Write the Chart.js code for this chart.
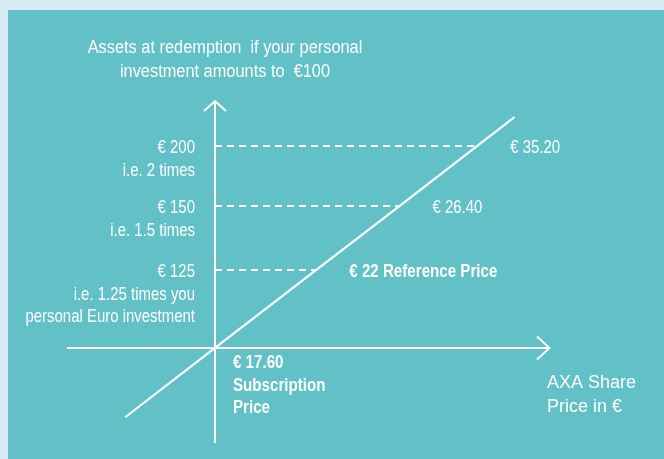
<!DOCTYPE html>
<html>
<head>
<meta charset="utf-8">
<script src="https://cdn.jsdelivr.net/npm/chart.js@4.4.1/dist/chart.umd.min.js"></script>
<style>
  html, body { margin: 0; padding: 0; width: 664px; height: 459px; overflow: hidden; background: #d7eaf6; }
  #panel { position: absolute; left: 8px; top: 10px; right: 0; bottom: 0; background: #62c1c6; }
  #c { position: absolute; left: 0; top: 0; }
</style>
</head>
<body>
<div id="panel"></div>
<canvas id="c" width="664" height="459"></canvas>
<script>
// ---- data ----
const PRICES = [17.60, 22.00, 26.40, 35.20];          // AXA share price (€)
const ASSETS = [100, 125, 150, 200];                   // assets at redemption (€)
const LINE_PRICES = [13.7, 17.60, 22.00, 26.40, 35.20, 39.4];
const LINE_ASSETS = [77.8, 100, 125, 150, 200, 224];
const PRICE_LABELS = ['€ 17.60', '€ 22', '€ 26.40', '€ 35.20'];
const ASSET_LABELS = [
  ['€ 125', 'i.e. 1.25 times you', 'personal Euro investment'],
  ['€ 150', 'i.e. 1.5 times'],
  ['€ 200', 'i.e. 2 times']
];
const TITLE_LINES = ['Assets at redemption  if your personal', 'investment amounts to  €100'];
const SUB_LINES = ['€ 17.60', 'Subscription', 'Price'];
const REF_LABEL = '€ 22 Reference Price';
const X_TITLE = ['AXA Share', 'Price in €'];

// ---- schematic (piecewise) scale: break values placed along the axis ----
const BREAKS = {
  x: { values: PRICES, fracs: [0.3056, 0.5162, 0.6890, 0.8509] },
  y: { values: ASSETS, fracs: [0.2765, 0.5059, 0.6941, 0.8706] }
};
class SchematicScale extends Chart.LinearScale {
  _seg(value) {
    const v = BREAKS[this.id].values;
    let i = 0;
    while (i < v.length - 2 && value > v[i + 1]) i++;
    return i;
  }
  getPixelForValue(value) {
    const b = BREAKS[this.id];
    const i = this._seg(value);
    const t = (value - b.values[i]) / (b.values[i + 1] - b.values[i]);
    return this.getPixelForDecimal(b.fracs[i] + t * (b.fracs[i + 1] - b.fracs[i]));
  }
  getValueForPixel(pixel) {
    const b = BREAKS[this.id];
    const d = this.getDecimalForPixel(pixel);
    let i = 0;
    while (i < b.fracs.length - 2 && d > b.fracs[i + 1]) i++;
    const t = (d - b.fracs[i]) / (b.fracs[i + 1] - b.fracs[i]);
    return b.values[i] + t * (b.values[i + 1] - b.values[i]);
  }
}
SchematicScale.id = 'schematic';
SchematicScale.defaults = {};
Chart.register(SchematicScale);

const WHITE = '#ffffff';
const FONT = '"Liberation Sans", Arial, sans-serif';

function txt(ctx, s, x, y, o) {
  ctx.save();
  ctx.font = (o.bold ? 'bold ' : '') + o.size + 'px ' + FONT;
  ctx.fillStyle = WHITE;
  ctx.textAlign = o.align || 'left';
  ctx.textBaseline = 'alphabetic';
  ctx.translate(x, y);
  ctx.scale(o.sx || 1, 1);
  ctx.fillText(s, 0, 0);
  ctx.restore();
}

const annot = {
  id: 'annot',
  afterDraw(chart) {
    const ctx = chart.ctx, X = chart.scales.x, Y = chart.scales.y, ca = chart.chartArea;
    const ax = X.getPixelForValue(PRICES[0]);
    const ay = Y.getPixelForValue(ASSETS[0]);
    // arrowheads
    ctx.save();
    ctx.strokeStyle = WHITE; ctx.lineWidth = 2; ctx.lineJoin = 'miter';
    ctx.beginPath();
    ctx.moveTo(ax - 11, ca.top + 9); ctx.lineTo(ax, ca.top - 1); ctx.lineTo(ax + 11, ca.top + 9);
    ctx.stroke();
    ctx.beginPath();
    ctx.moveTo(ca.right - 12, ay - 11.5); ctx.lineTo(ca.right + 0.5, ay); ctx.lineTo(ca.right - 12, ay + 11.5);
    ctx.stroke();
    ctx.restore();

    // title
    TITLE_LINES.forEach((s, k) => txt(ctx, s, ax + 10, ca.top - 49 + k * 24, { size: 17.6, sx: 0.93, align: 'center' }));

    // left level labels
    ASSETS.slice(1).forEach((a, k) => {
      const py = Y.getPixelForValue(a);
      ASSET_LABELS[k].forEach((s, j) => txt(ctx, s, ax - 20, py + 7 + j * 22.6, { size: 17.6, sx: 0.85, align: 'right' }));
    });

    // right price labels
    PRICES.slice(1).forEach((p, k) => {
      const px = X.getPixelForValue(p) + 33;
      const py = Y.getPixelForValue(ASSETS[k + 1]) + 7;
      if (k === 0) txt(ctx, REF_LABEL, px, py, { size: 17.6, sx: 0.86, bold: true });
      else txt(ctx, PRICE_LABELS[k + 1], px, py, { size: 17.6, sx: 0.85 });
    });

    // subscription price label
    SUB_LINES.forEach((s, j) => txt(ctx, s, ax + 18, ay + 20.5 + j * 22.3, { size: 17.6, sx: 0.86, bold: true }));

    // x axis title
    X_TITLE.forEach((s, j) => txt(ctx, s, ca.right - 2, ay + 40.5 + j * 23.3, { size: 18 }));
  }
};

const dashed = ASSETS.slice(1).map((a, k) => ({
  data: [{ x: PRICES[0], y: a }, { x: PRICES[k + 1], y: a }],
  showLine: true, borderColor: WHITE, borderWidth: 2, borderDash: [7, 5],
  pointRadius: 0, fill: false
}));

new Chart(document.getElementById('c'), {
  type: 'scatter',
  data: {
    datasets: [
      {
        data: LINE_PRICES.map((p, i) => ({ x: p, y: LINE_ASSETS[i] })),
        showLine: true, borderColor: WHITE, borderWidth: 2.2, pointRadius: 0, fill: false
      },
      ...dashed
    ]
  },
  options: {
    responsive: false,
    animation: false,
    events: [],
    devicePixelRatio: 1,
    layout: { padding: { left: 68, right: 115, top: 102, bottom: 17 } },
    plugins: { legend: { display: false }, tooltip: { enabled: false } },
    scales: {
      x: {
        type: 'schematic', min: 11, max: 44,
        position: { y: ASSETS[0] },
        grid: { display: false },
        ticks: { display: false },
        border: { display: true, color: WHITE, width: 2 }
      },
      y: {
        type: 'schematic', min: 70, max: 237,
        position: { x: PRICES[0] },
        grid: { display: false },
        ticks: { display: false },
        border: { display: true, color: WHITE, width: 2 }
      }
    }
  },
  plugins: [annot]
});
</script>
</body>
</html>
